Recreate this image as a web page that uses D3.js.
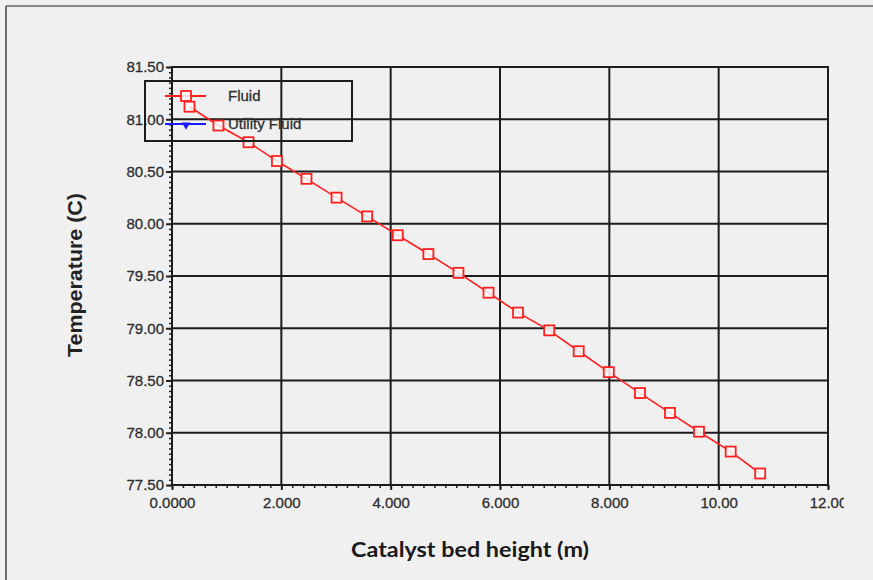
<!DOCTYPE html>
<html>
<head>
<meta charset="utf-8">
<script src="https://cdn.jsdelivr.net/npm/d3@7"></script>
<style>
  html, body { margin: 0; padding: 0; background: #f0f0f0; }
  svg { display: block; }
</style>
</head>
<body>
<svg id="chart" width="873" height="580"></svg>
<script>
// chart data
const bedHeight = [0.32, 0.85, 1.40, 1.92, 2.46, 3.01, 3.57, 4.13, 4.69, 5.24,
                   5.79, 6.33, 6.90, 7.44, 7.99, 8.56, 9.11, 9.64, 10.22, 10.76];
const fluidTemp = [81.12, 80.94, 80.78, 80.60, 80.43, 80.25, 80.07, 79.89, 79.71, 79.53,
                   79.34, 79.15, 78.98, 78.78, 78.58, 78.38, 78.19, 78.01, 77.82, 77.61];
const utilityTemp = []; // no points visible for the utility fluid

const xTicks = [0, 2, 4, 6, 8, 10, 12];
const xTickLabels = ['0.0000', '2.000', '4.000', '6.000', '8.000', '10.00', '12.00'];
const yTicks = [77.5, 78, 78.5, 79, 79.5, 80, 80.5, 81, 81.5];
const yTickLabels = ['77.50', '78.00', '78.50', '79.00', '79.50', '80.00', '80.50', '81.00', '81.50'];
const seriesNames = ['Fluid', 'Utility Fluid'];

// colors
const RED = '#ff1f1f';
const BLUE = '#1a1aff';
const GRID = '#1c1c1c';
const TEXT = '#2e2e2e';

// plot area
const plotLeft = 172, plotRight = 828, plotTop = 67, plotBottom = 485;

const svg = d3.select('#chart');

const x = d3.scaleLinear().domain([0, 12]).range([plotLeft, plotRight]);
const y = d3.scaleLinear().domain([77.5, 81.5]).range([plotBottom, plotTop]);

// outer frame
svg.append('rect').attr('width', 873).attr('height', 580).attr('fill', '#f0f0f0');
svg.append('line').attr('x1', 6).attr('y1', 6).attr('x2', 873).attr('y2', 6)
    .attr('stroke', '#666').attr('stroke-width', 1.5);
svg.append('line').attr('x1', 6).attr('y1', 6).attr('x2', 6).attr('y2', 580)
    .attr('stroke', '#444').attr('stroke-width', 1.5);

// right edge clips the last tick label like in the original
svg.append('clipPath').attr('id', 'clip')
    .append('rect').attr('x', 0).attr('y', 0).attr('width', 844).attr('height', 580);

const g = svg.append('g').attr('clip-path', 'url(#clip)');

// grid lines
g.append('g').selectAll('line')
    .data(xTicks)
    .join('line')
    .attr('x1', d => x(d)).attr('x2', d => x(d))
    .attr('y1', plotTop).attr('y2', plotBottom)
    .attr('stroke', GRID).attr('stroke-width', 2);

g.append('g').selectAll('line')
    .data(yTicks)
    .join('line')
    .attr('x1', plotLeft).attr('x2', plotRight)
    .attr('y1', d => y(d)).attr('y2', d => y(d))
    .attr('stroke', GRID).attr('stroke-width', 2);

// minor ticks
const xMinor = d3.axisBottom(x).ticks(60).tickSize(3).tickFormat('');
const yMinor = d3.axisLeft(y).ticks(80).tickSize(3).tickFormat('');
g.append('g').attr('transform', `translate(0,${plotBottom})`).call(xMinor)
    .call(a => a.select('.domain').remove())
    .selectAll('line').attr('stroke', '#222').attr('stroke-width', 1.5);
g.append('g').attr('transform', `translate(${plotLeft},0)`).call(yMinor)
    .call(a => a.select('.domain').remove())
    .selectAll('line').attr('stroke', '#222').attr('stroke-width', 1.5);

// major axes with labels
const xAxis = d3.axisBottom(x).tickValues(xTicks).tickSize(5)
    .tickFormat((d, i) => xTickLabels[i]);
const yAxis = d3.axisLeft(y).tickValues(yTicks).tickSize(6)
    .tickFormat((d, i) => yTickLabels[i]);

g.append('g').attr('transform', `translate(0,${plotBottom})`).call(xAxis)
    .call(a => a.select('.domain').remove())
    .call(a => a.selectAll('line').attr('stroke', '#222').attr('stroke-width', 2))
    .call(a => a.selectAll('text')
        .attr('y', 12)
        .attr('fill', TEXT)
        .attr('stroke', TEXT).attr('stroke-width', 0.3)
        .style('font-family', '"Liberation Sans", Arial, sans-serif')
        .style('font-size', '15px'));

g.append('g').attr('transform', `translate(${plotLeft},0)`).call(yAxis)
    .call(a => a.select('.domain').remove())
    .call(a => a.selectAll('line').attr('stroke', '#222').attr('stroke-width', 2))
    .call(a => a.selectAll('text')
        .attr('x', -8)
        .attr('fill', TEXT)
        .attr('stroke', TEXT).attr('stroke-width', 0.3)
        .style('font-family', '"Liberation Sans", Arial, sans-serif')
        .style('font-size', '15px'));

// plot frame
g.append('rect')
    .attr('x', plotLeft).attr('y', plotTop)
    .attr('width', plotRight - plotLeft).attr('height', plotBottom - plotTop)
    .attr('fill', 'none').attr('stroke', GRID).attr('stroke-width', 2);

// the fluid series
const points = bedHeight.map((h, i) => [h, fluidTemp[i]]);
const line = d3.line().x(d => x(d[0])).y(d => y(d[1]));

g.append('path')
    .datum(points)
    .attr('d', line)
    .attr('fill', 'none')
    .attr('stroke', RED)
    .attr('stroke-width', 1.6);

g.append('g').selectAll('rect')
    .data(points)
    .join('rect')
    .attr('x', d => x(d[0]) - 5)
    .attr('y', d => y(d[1]) - 5)
    .attr('width', 10).attr('height', 10)
    .attr('fill', '#fafafa').attr('fill-opacity', 0.85)
    .attr('stroke', RED).attr('stroke-width', 1.8);

// utility fluid (nothing plotted)
g.append('path')
    .datum(utilityTemp)
    .attr('d', line)
    .attr('fill', 'none')
    .attr('stroke', BLUE);

// legend
const legend = g.append('g');
legend.append('rect')
    .attr('x', 145).attr('y', 81)
    .attr('width', 207).attr('height', 60)
    .attr('fill', 'none').attr('stroke', GRID).attr('stroke-width', 2);

const legendColors = [RED, BLUE];
const legendY = [96, 124];

seriesNames.forEach((name, i) => {
    legend.append('line')
        .attr('x1', 165).attr('x2', 206)
        .attr('y1', legendY[i]).attr('y2', legendY[i])
        .attr('stroke', legendColors[i]).attr('stroke-width', 2);
    if (i === 0) {
        legend.append('rect')
            .attr('x', 181).attr('y', legendY[i] - 5)
            .attr('width', 10).attr('height', 10)
            .attr('fill', '#fafafa').attr('fill-opacity', 0.85)
            .attr('stroke', RED).attr('stroke-width', 1.8);
    } else {
        legend.append('path')
            .attr('d', d3.symbol().type(d3.symbolTriangle).size(30))
            .attr('transform', `translate(186,${legendY[i] + 1}) rotate(180)`)
            .attr('fill', BLUE);
    }
    legend.append('text')
        .attr('x', 228).attr('y', legendY[i] + 5)
        .attr('fill', TEXT)
        .attr('stroke', TEXT).attr('stroke-width', 0.3)
        .style('font-family', '"Liberation Sans", Arial, sans-serif')
        .style('font-size', '15px')
        .text(name);
});

// axis titles
svg.append('text')
    .attr('transform', 'translate(82,275) rotate(-90)')
    .attr('text-anchor', 'middle')
    .attr('fill', '#222')
    .attr('textLength', 164)
    .attr('lengthAdjust', 'spacingAndGlyphs')
    .style('font-family', '"Liberation Sans", Arial, sans-serif')
    .style('font-weight', 'bold')
    .style('font-size', '20px')
    .text('Temperature (C)');

svg.append('text')
    .attr('x', 470).attr('y', 557)
    .attr('text-anchor', 'middle')
    .attr('fill', '#1a1a1a')
    .attr('textLength', 238)
    .attr('lengthAdjust', 'spacingAndGlyphs')
    .style('font-family', 'Lato, "Open Sans", sans-serif')
    .style('font-weight', 'bold')
    .style('font-size', '21px')
    .text('Catalyst bed height (m)');
</script>
</body>
</html>
